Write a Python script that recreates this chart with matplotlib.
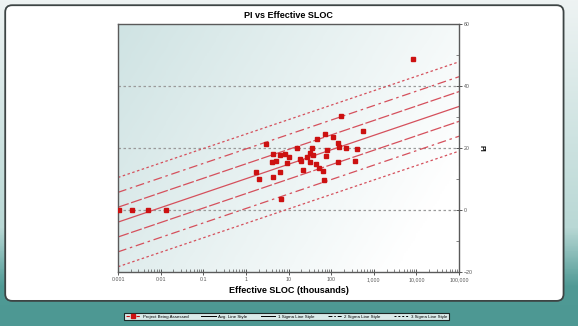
import numpy as np
import matplotlib
matplotlib.use("Agg")
import matplotlib.pyplot as plt
from matplotlib.patches import FancyBboxPatch
from matplotlib.lines import Line2D
from matplotlib.colors import LinearSegmentedColormap
from matplotlib.ticker import LogLocator, MultipleLocator, NullFormatter

plt.rcParams['font.family'] = ['Liberation Sans', 'DejaVu Sans']

# projects: effective SLOC (thousands) and PI
sloc = [0.00105, 0.0021, 0.0051, 0.013,
        171, 2.9, 551, 73, 109, 46, 143, 153, 223, 411,
        79, 16, 36, 4.3, 6.3, 8.3, 10.3, 18.6, 32, 38,
        75, 27, 4.2, 5.0, 9.4, 20, 32, 44, 147, 357,
        1.7, 6.3, 21.5, 53, 64, 2.0, 4.4, 67, 6.7, 8470]
pi = [0, 0, 0, 0,
      30.4, 21.4, 25.5, 24.4, 23.6, 22.8, 21.7, 20.2, 20.1, 19.6,
      19.4, 20.1, 19.9, 18.0, 17.6, 18.2, 17.0, 16.5, 18.3, 17.6,
      17.4, 17.0, 15.6, 15.8, 15.1, 15.8, 15.4, 14.7, 15.6, 15.8,
      12.2, 12.3, 12.8, 13.5, 12.6, 9.9, 10.5, 9.7, 3.6, 48.7]

# trend line ends and sigma band width
fit_x = [0.001, 100000]
fit_avg = [-3.9, 33.4]
sigma = 4.8

x_ticks = [0.001, 0.01, 0.1, 1, 10, 100, 1000, 10000, 100000]
x_tick_labels = ["0.001", "0.01", "0.1", "1", "10", "100", "1,000", "10,000", "100,000"]
y_ticks = [-20, 0, 20, 40, 60]

fig = plt.figure(figsize=(5.78, 3.26), dpi=100)

# page background: light at top, teal at bottom
bg = fig.add_axes([0, 0, 1, 1], zorder=-10)
bg_cmap = LinearSegmentedColormap.from_list(
    "bg", [(0, "#4d9893"), (0.12, "#4f9a95"), (0.3, "#b9d8d5"), (1, "#eef3f3")])
bg.imshow(np.linspace(0, 1, 200).reshape(-1, 1), cmap=bg_cmap, aspect="auto",
          extent=[0, 1, 0, 1], origin="lower")
bg.add_patch(FancyBboxPatch((0.009, 0.077), 0.966, 0.907,
                            boxstyle="round,pad=0,rounding_size=0.012",
                            facecolor="white", edgecolor="#3d4444", lw=1.3,
                            mutation_aspect=578 / 326))
bg.set_xlim(0, 1)
bg.set_ylim(0, 1)
bg.axis("off")

ax = fig.add_axes([0.2042, 0.1656, 0.5900, 0.7608])

# plot area shading: teal-grey fading to white toward the right
gx, gy = np.meshgrid(np.linspace(0, 1, 200), np.linspace(0, 1, 100))
shade = np.clip(0.8 * gx + 0.35 * (1 - gy), 0, 1)
area_cmap = LinearSegmentedColormap.from_list("area", ["#cfe3e3", "#ffffff"])
ax.imshow(shade, cmap=area_cmap, aspect="auto", extent=[0, 1, 0, 1],
          origin="lower", transform=ax.transAxes, zorder=0)

ax.set_xscale("log")
ax.set_xlim(0.001, 100000)
ax.set_ylim(-20, 60)

for g in [0, 20, 40]:
    ax.axhline(g, color="#9a9a9a", lw=0.9, ls=(0, (2, 2)), zorder=1)

# average line and sigma bands
line_red = "#d5505c"
styles = {0: "-", 1: (0, (9, 2)), 2: (0, (7, 3, 2, 3)), 3: (0, (2, 2))}
for k in [0, 1, 2, 3]:
    for sgn in ([1] if k == 0 else [1, -1]):
        ax.plot(fit_x, [v + sgn * k * sigma for v in fit_avg], color=line_red,
                lw=0.9, ls=styles[k], zorder=2)

ax.plot(sloc, pi, ls="none", marker="s", ms=2.7, color="#cc1111",
        mec="#cc1111", zorder=3)

ax.set_xticks(x_ticks)
ax.set_xticklabels(x_tick_labels)
ax.xaxis.set_minor_locator(LogLocator(base=10, subs=np.arange(2, 10), numticks=20))
ax.xaxis.set_minor_formatter(NullFormatter())
ax.yaxis.tick_right()
ax.set_yticks(y_ticks)
ax.yaxis.set_minor_locator(MultipleLocator(10))
ax.tick_params(which="major", direction="inout", length=4, width=0.7,
               labelsize=3.8, labelcolor="#555555", color="#555555", pad=1.5)
ax.tick_params(which="minor", direction="in", length=2, width=0.5, color="#555555")

for side in ["left", "right", "top", "bottom"]:
    ax.spines[side].set_color("#5a5a5a")
    ax.spines[side].set_linewidth(1.0)

ax.set_title("PI vs Effective SLOC", fontsize=6.5, fontweight="bold", pad=4)
ax.set_xlabel("Effective SLOC (thousands)", fontsize=6.5, fontweight="bold", labelpad=3)
ax.yaxis.set_label_position("right")
ax.set_ylabel("PI", fontsize=5, fontweight="bold", rotation=270, labelpad=8)

handles = [
    Line2D([], [], color="#cc1111", marker="s", ms=2.5, ls=(0, (3, 1.5)), lw=0.8),
    Line2D([], [], color="black", ls="-", lw=0.7),
    Line2D([], [], color="black", ls="-", lw=0.7),
    Line2D([], [], color="black", ls=(0, (4, 2, 1.5, 2)), lw=0.7),
    Line2D([], [], color="black", ls=(0, (2, 2)), lw=0.7),
]
labels = ["Project Being Assessed", "Avg. Line Style", "1 Sigma Line Style",
          "2 Sigma Line Style", "3 Sigma Line Style"]
leg = fig.legend(handles, labels, loc="center", bbox_to_anchor=(0.4957, 0.029),
                 ncol=5, fontsize=3.2, frameon=True, fancybox=False,
                 handlelength=3.2, handletextpad=0.6, columnspacing=3.0,
                 borderpad=0.35)
leg.get_frame().set_edgecolor("black")
leg.get_frame().set_linewidth(0.8)

fig.savefig("out.png", dpi=100)
